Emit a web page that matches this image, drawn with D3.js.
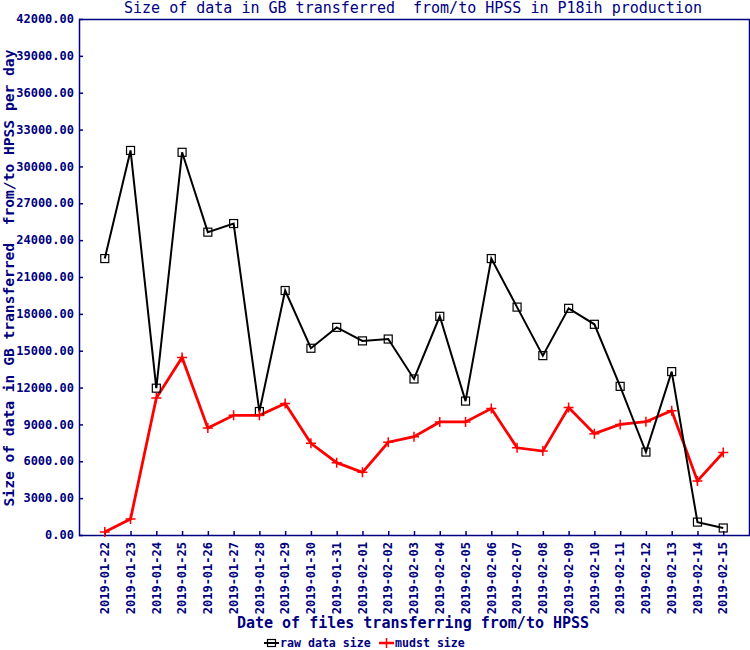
<!DOCTYPE html>
<html><head><meta charset="utf-8">
<script src="https://cdn.jsdelivr.net/npm/d3@7/dist/d3.min.js"></script>
<style>body{margin:0;background:#fff}svg{display:block}text{font-family:"DejaVu Sans Mono",monospace;font-weight:bold;fill:#000080;white-space:pre}text.t{font-weight:normal}</style>
</head><body><svg id="c" width="750" height="650"></svg>
<script>
const dates = ["2019-01-22","2019-01-23","2019-01-24","2019-01-25","2019-01-26","2019-01-27","2019-01-28","2019-01-29","2019-01-30","2019-01-31","2019-02-01","2019-02-02","2019-02-03","2019-02-04","2019-02-05","2019-02-06","2019-02-07","2019-02-08","2019-02-09","2019-02-10","2019-02-11","2019-02-12","2019-02-13","2019-02-14","2019-02-15"];
const rawData = [22500,31300,11950,31150,24650,25350,10050,19900,15200,16900,15800,15950,12700,17800,10900,22500,18550,14600,18450,17150,12100,6750,13300,1050,570];
const mudst = [250,1300,11150,14450,8700,9740,9740,10700,7460,5890,5100,7550,8000,9200,9200,10300,7100,6830,10380,8250,9000,9220,10120,4400,6720];
const yTicks = [0,3000,6000,9000,12000,15000,18000,21000,24000,27000,30000,33000,36000,39000,42000];
const title = "Size of data in GB transferred  from/to HPSS in P18ih production";
const yTitle = "Size of data in GB transferred  from/to HPSS per day";
const xTitle = "Date of files transferring from/to HPSS";
const seriesNames = ["raw data size","mudst size"];

const svg = d3.select("#c");
const L=79,R=749,T=19,B=535;
const navy="#000080";
const x = d3.scaleLinear().domain([-1,dates.length]).range([L,R]);
const y = d3.scaleLinear().domain([0,42000]).range([B,T]);

svg.append("rect").attr("x",L+0.5).attr("y",T+0.5).attr("width",R-L).attr("height",B-T)
  .attr("fill","none").attr("stroke",navy).attr("stroke-width",1.5);

const ya = svg.append("g").attr("transform",`translate(${L},0)`)
  .call(d3.axisRight(y).tickValues(yTicks).tickSize(4).tickFormat(""));
ya.select(".domain").remove();
ya.selectAll("line").attr("stroke",navy).attr("stroke-width",1.5);
svg.append("g").selectAll("text").data(yTicks).join("text")
  .attr("x",74).attr("y",d=>y(d)).attr("dy","0.35em").attr("text-anchor","end")
  .style("font-size","12px").text(d=>d3.format(".2f")(d));

const xa = svg.append("g").attr("transform",`translate(0,${B})`)
  .call(d3.axisTop(x).tickValues(d3.range(dates.length)).tickSize(4).tickFormat(""));
xa.select(".domain").remove();
xa.selectAll("line").attr("stroke",navy).attr("stroke-width",1.5);
svg.append("g").selectAll("text").data(dates).join("text")
  .attr("transform",(d,i)=>`translate(${x(i)},${B+7}) rotate(-90)`)
  .attr("text-anchor","end").attr("dy","0.35em").style("font-size","12px").text(d=>d);

svg.append("text").attr("class","t").attr("x",413).attr("y",13).attr("text-anchor","middle").style("font-size","15px").text(title);
svg.append("text").attr("transform",`translate(9,${(T+B)/2+1}) rotate(-90)`).attr("text-anchor","middle")
  .attr("dy","0.35em").style("font-size","14.6px").text(yTitle);
svg.append("text").attr("x",413).attr("y",623).attr("text-anchor","middle").attr("dy","0.35em").style("font-size","15px").text(xTitle);

const line = d3.line().x((d,i)=>x(i)).y(d=>y(d));
svg.append("path").datum(mudst).attr("d",line).attr("fill","none").attr("stroke","#ff0000").attr("stroke-width",2.8);
svg.append("path").datum(rawData).attr("d",line).attr("fill","none").attr("stroke","#000").attr("stroke-width",2);
svg.append("g").selectAll("rect").data(rawData).join("rect")
  .attr("x",(d,i)=>x(i)-4).attr("y",d=>y(d)-4).attr("width",8).attr("height",8)
  .attr("fill","none").attr("stroke","#000").attr("stroke-width",1.2);
svg.append("g").selectAll("path").data(mudst).join("path")
  .attr("d",(d,i)=>`M${x(i)-5},${y(d)}H${x(i)+5}M${x(i)},${y(d)-5}V${y(d)+5}`)
  .attr("stroke","#ff0000").attr("stroke-width",1.5);

const lg = svg.append("g");
lg.append("line").attr("x1",264).attr("x2",279).attr("y1",643).attr("y2",643).attr("stroke","#000").attr("stroke-width",2);
lg.append("rect").attr("x",267.5).attr("y",639.5).attr("width",8).attr("height",7).attr("fill","none").attr("stroke","#000").attr("stroke-width",1.2);
lg.append("text").attr("x",280).attr("y",643).attr("dy","0.35em").style("font-size","11.6px").text(seriesNames[0]);
lg.append("line").attr("x1",379).attr("x2",394).attr("y1",643).attr("y2",643).attr("stroke","#ff0000").attr("stroke-width",2.5);
lg.append("line").attr("x1",386.5).attr("x2",386.5).attr("y1",638).attr("y2",648).attr("stroke","#ff0000").attr("stroke-width",1.5);
lg.append("text").attr("x",395).attr("y",643).attr("dy","0.35em").style("font-size","11.6px").text(seriesNames[1]);
</script></body></html>
